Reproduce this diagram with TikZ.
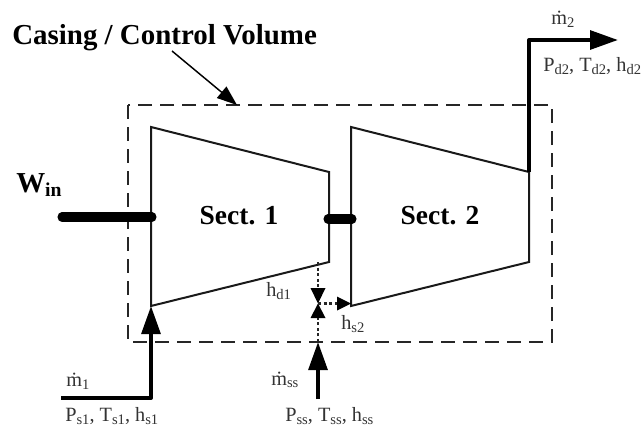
\documentclass[tikz,border=0pt]{standalone}
\usepackage{fontspec}
\setmainfont{Liberation Serif}
\usetikzlibrary{arrows.meta}
\newcommand{\sbs}[1]{\raisebox{-0.28ex}{\scalebox{0.72}{#1}}}
\tikzset{
  x=0.75pt,y=-0.75pt,
  casing/.style={draw=black!85,line width=1.1pt,dash pattern=on 10.5pt off 6pt},
  section/.style={draw=black!90,line width=1.5pt,line join=miter},
  shaft/.style={draw=black,line width=6.8pt,line cap=round},
  flow/.style={draw=black,line width=3pt,line join=round},
  bighead/.style={-{Triangle[length=21pt,width=14pt]}},
  dotflow/.style={draw=black!85,line width=1.6pt,dash pattern=on 2.2pt off 2pt},
  lbl/.style={inner sep=0pt,font=\fontsize{15.2}{17}\selectfont,text=black!80},
  title/.style={inner sep=0pt,font=\bfseries\fontsize{21.7}{24}\selectfont},
  sect/.style={inner sep=0pt,font=\bfseries\fontsize{20.6}{23}\selectfont},
}
\begin{document}
\begin{tikzpicture}
\useasboundingbox (0,0) rectangle (641,428);
% casing
\coordinate (cvtl) at (128,105);
\coordinate (cvbr) at (552,342);
\draw[casing] (cvtl) rectangle (cvbr);
% sections
\coordinate (a1) at (151,127); \coordinate (a2) at (329,172);
\coordinate (a3) at (329,262); \coordinate (a4) at (151,306);
\coordinate (b1) at (351,127); \coordinate (b2) at (529,172);
\coordinate (b3) at (529,262); \coordinate (b4) at (351,306);
\draw[section] (a1) -- (a2) -- (a3) -- (a4) -- cycle;
\draw[section] (b1) -- (b2) -- (b3) -- (b4) -- cycle;
% shafts
\coordinate (w0) at (62,217); \coordinate (w1) at (152,217);
\coordinate (c0) at (328,219); \coordinate (c1) at (352,219);
\draw[shaft] (w0) -- (w1);
\draw[shaft] (c0) -- (c1);
% flows
\coordinate (m1s) at (61,398); \coordinate (m1c) at (151,398);
\draw[flow,bighead] (m1s) -- (m1c) -- (a4);
\coordinate (m2c) at (529,40); \coordinate (m2e) at (618,40);
\draw[flow,bighead] (b2) -- (m2c) -- (m2e);
\coordinate (sss) at (318,399); \coordinate (sse) at (318,342);
\draw[flow,bighead] (sss) -- (sse);
% dotted mixing
\coordinate (d1) at (318,262); \coordinate (mx) at (318,303.5);
\coordinate (d2) at (351,303.5);
\draw[dotflow] (d1) -- (318,290);
\fill[black] (310.5,288) -- (325.5,288) -- (mx) -- cycle;
\draw[dotflow] (sse) -- (318,318);
\fill[black] (310.5,318) -- (325.5,318) -- (mx) -- cycle;
\draw[dotflow] (mx) -- (338,303.5);
\fill[black] (337,296.5) -- (337,310.5) -- (d2) -- cycle;
% control volume pointer
\coordinate (cvp0) at (172,51); \coordinate (cvp1) at (237,105);
\draw[draw=black,line width=1.1pt,-{Triangle[length=15pt,width=11pt]}] (cvp0) -- (cvp1);
% labels
\node[title,anchor=west] (tcv) at (12,38) {Casing / Control Volume};
\node[title,anchor=west] (twin) at (16,185) {W\raisebox{-0.35ex}{\scalebox{0.68}{in}}};
\node[sect] (s1) at (239,216) {Sect. 1};
\node[sect] (s2) at (440,216) {Sect. 2};
\node[lbl,anchor=west] (lm1) at (66,381) {\.m\sbs{1}};
\node[lbl,anchor=west] (lp1) at (65,416) {P\sbs{s1}, T\sbs{s1}, h\sbs{s1}};
\node[lbl,anchor=west] (lm2) at (551,19) {\.m\sbs{2}};
\node[lbl,anchor=west] (lp2) at (543,66) {P\sbs{d2}, T\sbs{d2}, h\sbs{d2}};
\node[lbl,anchor=west] (lhd) at (266,291) {h\sbs{d1}};
\node[lbl,anchor=west] (lhs) at (341,324) {h\sbs{s2}};
\node[lbl,anchor=west] (lmss) at (271,380) {\.m\sbs{ss}};
\node[lbl,anchor=west] (lpss) at (285,416) {P\sbs{ss}, T\sbs{ss}, h\sbs{ss}};
\end{tikzpicture}
\end{document}
